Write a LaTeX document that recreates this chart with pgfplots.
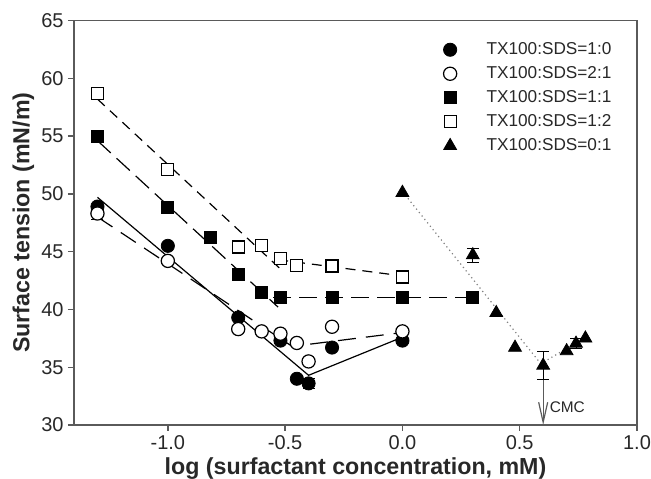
\documentclass[border=0pt]{standalone}
\usepackage{pgfplots}
\pgfplotsset{compat=1.18}
\usepackage{fontspec}
\setmainfont{Liberation Sans}
\usetikzlibrary{arrows.meta,calc}

\definecolor{axisgray}{RGB}{90,90,90}
\definecolor{txt}{RGB}{40,40,40}

\begin{document}
\begin{tikzpicture}
\begin{axis}[
  name=ax,
  scale only axis,
  width=281.5pt, height=202.25pt,
  xmin=-1.4, xmax=1.0,
  ymin=30, ymax=65,
  xtick={-1,-0.5,0,0.5,1},
  xticklabels={-1.0,-0.5,0.0,0.5,1.0},
  ytick={30,35,...,65},
  tick pos=left,
  tick align=outside,
  major tick length=3pt,
  axis line style={axisgray, line width=0.7pt},
  every tick/.style={axisgray, line width=0.7pt},
  /pgf/number format/assume math mode=true,
  tick label style={font=\fontsize{10}{12}\selectfont, text=txt, inner sep=2pt},
  label style={font=\fontsize{11.6}{14}\selectfont\bfseries, text=txt},
  xlabel={log (surfactant concentration, mM)},
  ylabel={Surface tension (mN/m)},
  xlabel style={yshift=1.5pt},
  ylabel style={yshift=-2pt},
  legend style={draw=none, fill=none, at={(0.645,0.967)}, anchor=north west,
    font=\fontsize{8.6}{10}\selectfont, text=txt, row sep=0.5pt},
  legend cell align=left,
  legend image code/.code={%
    \draw[mark repeat=2,mark phase=2,#1] plot coordinates {(0cm,0cm) (0.15cm,0cm) (0.3cm,0cm)};
    \path[draw=none] (0.72cm,0cm);},
  error bars/error bar style={black, line width=0.5pt},
  error bars/error mark options={rotate=90, mark size=3pt, line width=0.5pt},
]
% fitted lines
\addplot[forget plot, black, line width=0.6pt] coordinates {(-1.3,49.7) (-0.4,34.3) (0,37.6)};
\addplot[forget plot, black, line width=0.6pt, dash pattern=on 9pt off 5pt] coordinates {(-1.3,48.0) (-0.47,36.8) (0,38.0)};
\addplot[forget plot, black, line width=0.6pt, dash pattern=on 9pt off 4pt] coordinates {(-1.3,54.6) (-0.53,40.2)};
\addplot[forget plot, black, line width=0.6pt, dash pattern=on 9pt off 4pt] coordinates {(-0.55,41.0) (0.3,41.0)};
\addplot[forget plot, black, line width=0.6pt, dash pattern=on 5pt off 3.5pt] coordinates {(-1.3,58.2) (-0.52,43.5)};
\addplot[forget plot, black, line width=0.6pt, dash pattern=on 5pt off 3.5pt] coordinates {(-0.53,44.3) (0,42.9)};
\addplot[forget plot, gray, line width=0.6pt, dash pattern=on 0.6pt off 1.6pt] coordinates {(0,50.2) (0.59,35.3) (0.79,37.7)};
% CMC arrow
\addplot[forget plot, axisgray, line width=0.6pt, -{Straight Barb[length=10pt,width=4.5pt]}] coordinates {(0.6,33.9) (0.6,30)};
\node[anchor=west, inner sep=1pt, font=\fontsize{7.7}{9}\selectfont, text=txt] at (axis cs:0.618,31.5) {CMC};

% data
\addplot[only marks, mark=*, mark size=3.3pt, mark options={fill=black, draw=black},
  error bars/.cd, y dir=both, y explicit] coordinates {
  (-1.3,48.9) (-1.0,45.5) (-0.7,39.3) (-0.52,37.3) (-0.45,34.0) (-0.4,33.6) +- (0,0.4) (-0.3,36.7) (0,37.3)
};
\addlegendentry{TX100:SDS=1:0}
\addplot[only marks, mark=*, mark size=3.3pt, mark options={fill=white, draw=black, line width=0.6pt},
  error bars/.cd, y dir=both, y explicit] coordinates {
  (-1.3,48.3) +- (0,0.5) (-1.0,44.2) (-0.7,38.3) (-0.6,38.1) (-0.52,37.9) (-0.45,37.1) (-0.4,35.5) (-0.3,38.5) (0,38.1)
};
\addlegendentry{TX100:SDS=2:1}
\addplot[only marks, mark=square*, mark size=3pt, mark options={fill=black, draw=black}] coordinates {
  (-1.3,55.0) (-1.0,48.8) (-0.82,46.2) (-0.7,43.0) (-0.6,41.5) (-0.52,41.0) (-0.3,41.0) (0,41.0) (0.3,41.0)
};
\addlegendentry{TX100:SDS=1:1}
\addplot[only marks, mark=square*, mark size=3pt, mark options={fill=white, draw=black, line width=0.6pt}] coordinates {
  (-1.3,58.7) (-1.0,52.1) (-0.7,45.4) (-0.6,45.5) (-0.52,44.4) (-0.45,43.8) (-0.3,43.75) (0,42.8)
};
\addlegendentry{TX100:SDS=1:2}
\addplot[only marks, mark=triangle*, mark size=3.7pt, mark options={fill=black, draw=black},
  error bars/.cd, y dir=both, y explicit] coordinates {
  (0,50.1) (0.3,44.7) +- (0,0.6) (0.4,39.7) (0.48,36.7) (0.6,35.15) +- (0,1.25) (0.7,36.4) (0.74,37.05) +- (0,0.45) (0.78,37.5)
};
\addlegendentry{TX100:SDS=0:1}
\end{axis}
\pgfresetboundingbox
\path ($(ax.south west)+(-37pt,-27pt)$) rectangle ($(ax.north east)+(7pt,10.25pt)$);
\end{tikzpicture}
\end{document}
